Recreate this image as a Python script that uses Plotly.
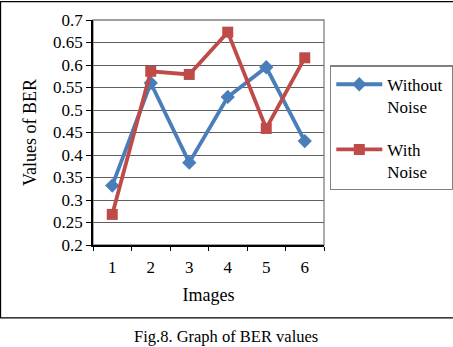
import plotly.graph_objects as go

images = [1, 2, 3, 4, 5, 6]
without_noise = [0.332, 0.560, 0.383, 0.529, 0.595, 0.431]
with_noise = [0.268, 0.586, 0.579, 0.673, 0.459, 0.616]
y_ticks = [0.2, 0.25, 0.3, 0.35, 0.4, 0.45, 0.5, 0.55, 0.6, 0.65, 0.7]
y_tick_labels = ["0.2", "0.25", "0.3", "0.35", "0.4", "0.45", "0.5", "0.55", "0.6", "0.65", "0.7"]

FONT = "Liberation Serif"
W, H = 453, 347
L, R, T, B = 93, 324, 19.5, 245

fig = go.Figure()
fig.add_trace(go.Scatter(
    x=images, y=without_noise, mode="lines+markers", name="Without&nbsp;<br>Noise",
    line=dict(color="#4A7EBB", width=3.8),
    marker=dict(symbol="diamond", size=11, color="#4A7EBB"),
    legendgroup="a",
))
fig.add_trace(go.Scatter(
    x=images, y=with_noise, mode="lines+markers", name="With<br>Noise",
    line=dict(color="#BE4B48", width=3.8),
    marker=dict(symbol="square", size=11, color="#BE4B48"),
    legendgroup="b",
))

def px(xp):
    return (xp - L) / (R - L)

def py(yp):
    return (B - yp) / (B - T)

shapes = [
    dict(type="rect", xref="paper", yref="paper", x0=0, x1=1, y0=0, y1=1,
         line=dict(color="#808080", width=1.3), layer="below"),
    dict(type="rect", xref="paper", yref="paper", x0=px(0.5), x1=px(456), y0=py(318), y1=py(1),
         line=dict(color="black", width=1.3)),
]

fig.update_layout(
    width=W, height=H,
    margin=dict(l=L, r=W - R, t=T, b=H - B, pad=0, autoexpand=False),
    paper_bgcolor="white", plot_bgcolor="white",
    font=dict(family=FONT, color="black", size=17),
    showlegend=True,
    legend=dict(
        x=px(330), y=py(65), xanchor="left", yanchor="top",
        bordercolor="#808080", borderwidth=1.3, bgcolor="white",
        font=dict(family=FONT, size=17, color="black"),
        traceorder="grouped", tracegroupgap=18,
        itemwidth=46, valign="top",
    ),
    shapes=shapes,
    annotations=[
        dict(text="Fig.8. Graph of BER values", xref="paper", yref="paper",
             x=px(226), y=py(337), xanchor="center", yanchor="middle", showarrow=False,
             font=dict(family=FONT, size=16.5, color="black")),
    ],
    xaxis=dict(
        range=[0.5, 6.5], tickmode="array", tickvals=images, ticktext=[str(i) for i in images],
        ticks="", showgrid=False, zeroline=False, automargin=False,
        showline=True, linecolor="black", linewidth=1.5,
        tickfont=dict(family=FONT, size=17), ticklabelstandoff=6,
        minor=dict(tick0=0.5, dtick=1, ticks="outside", ticklen=4, tickcolor="black", showgrid=False),
        title=dict(text="Images", font=dict(family=FONT, size=18), standoff=12),
    ),
    yaxis=dict(
        range=[0.2, 0.7], tickmode="array", tickvals=y_ticks, ticktext=y_tick_labels,
        ticks="outside", ticklen=5, tickcolor="black", automargin=False,
        showgrid=True, gridcolor="#606060", gridwidth=1.2, zeroline=False,
        showline=True, linecolor="black", linewidth=1.5,
        tickfont=dict(family=FONT, size=17),
        title=dict(text="Values of BER", font=dict(family=FONT, size=18), standoff=12),
    ),
)

fig.write_html("out.html", config={"displayModeBar": False},
               post_script="document.body.style.margin='0';document.body.style.overflow='hidden';")
